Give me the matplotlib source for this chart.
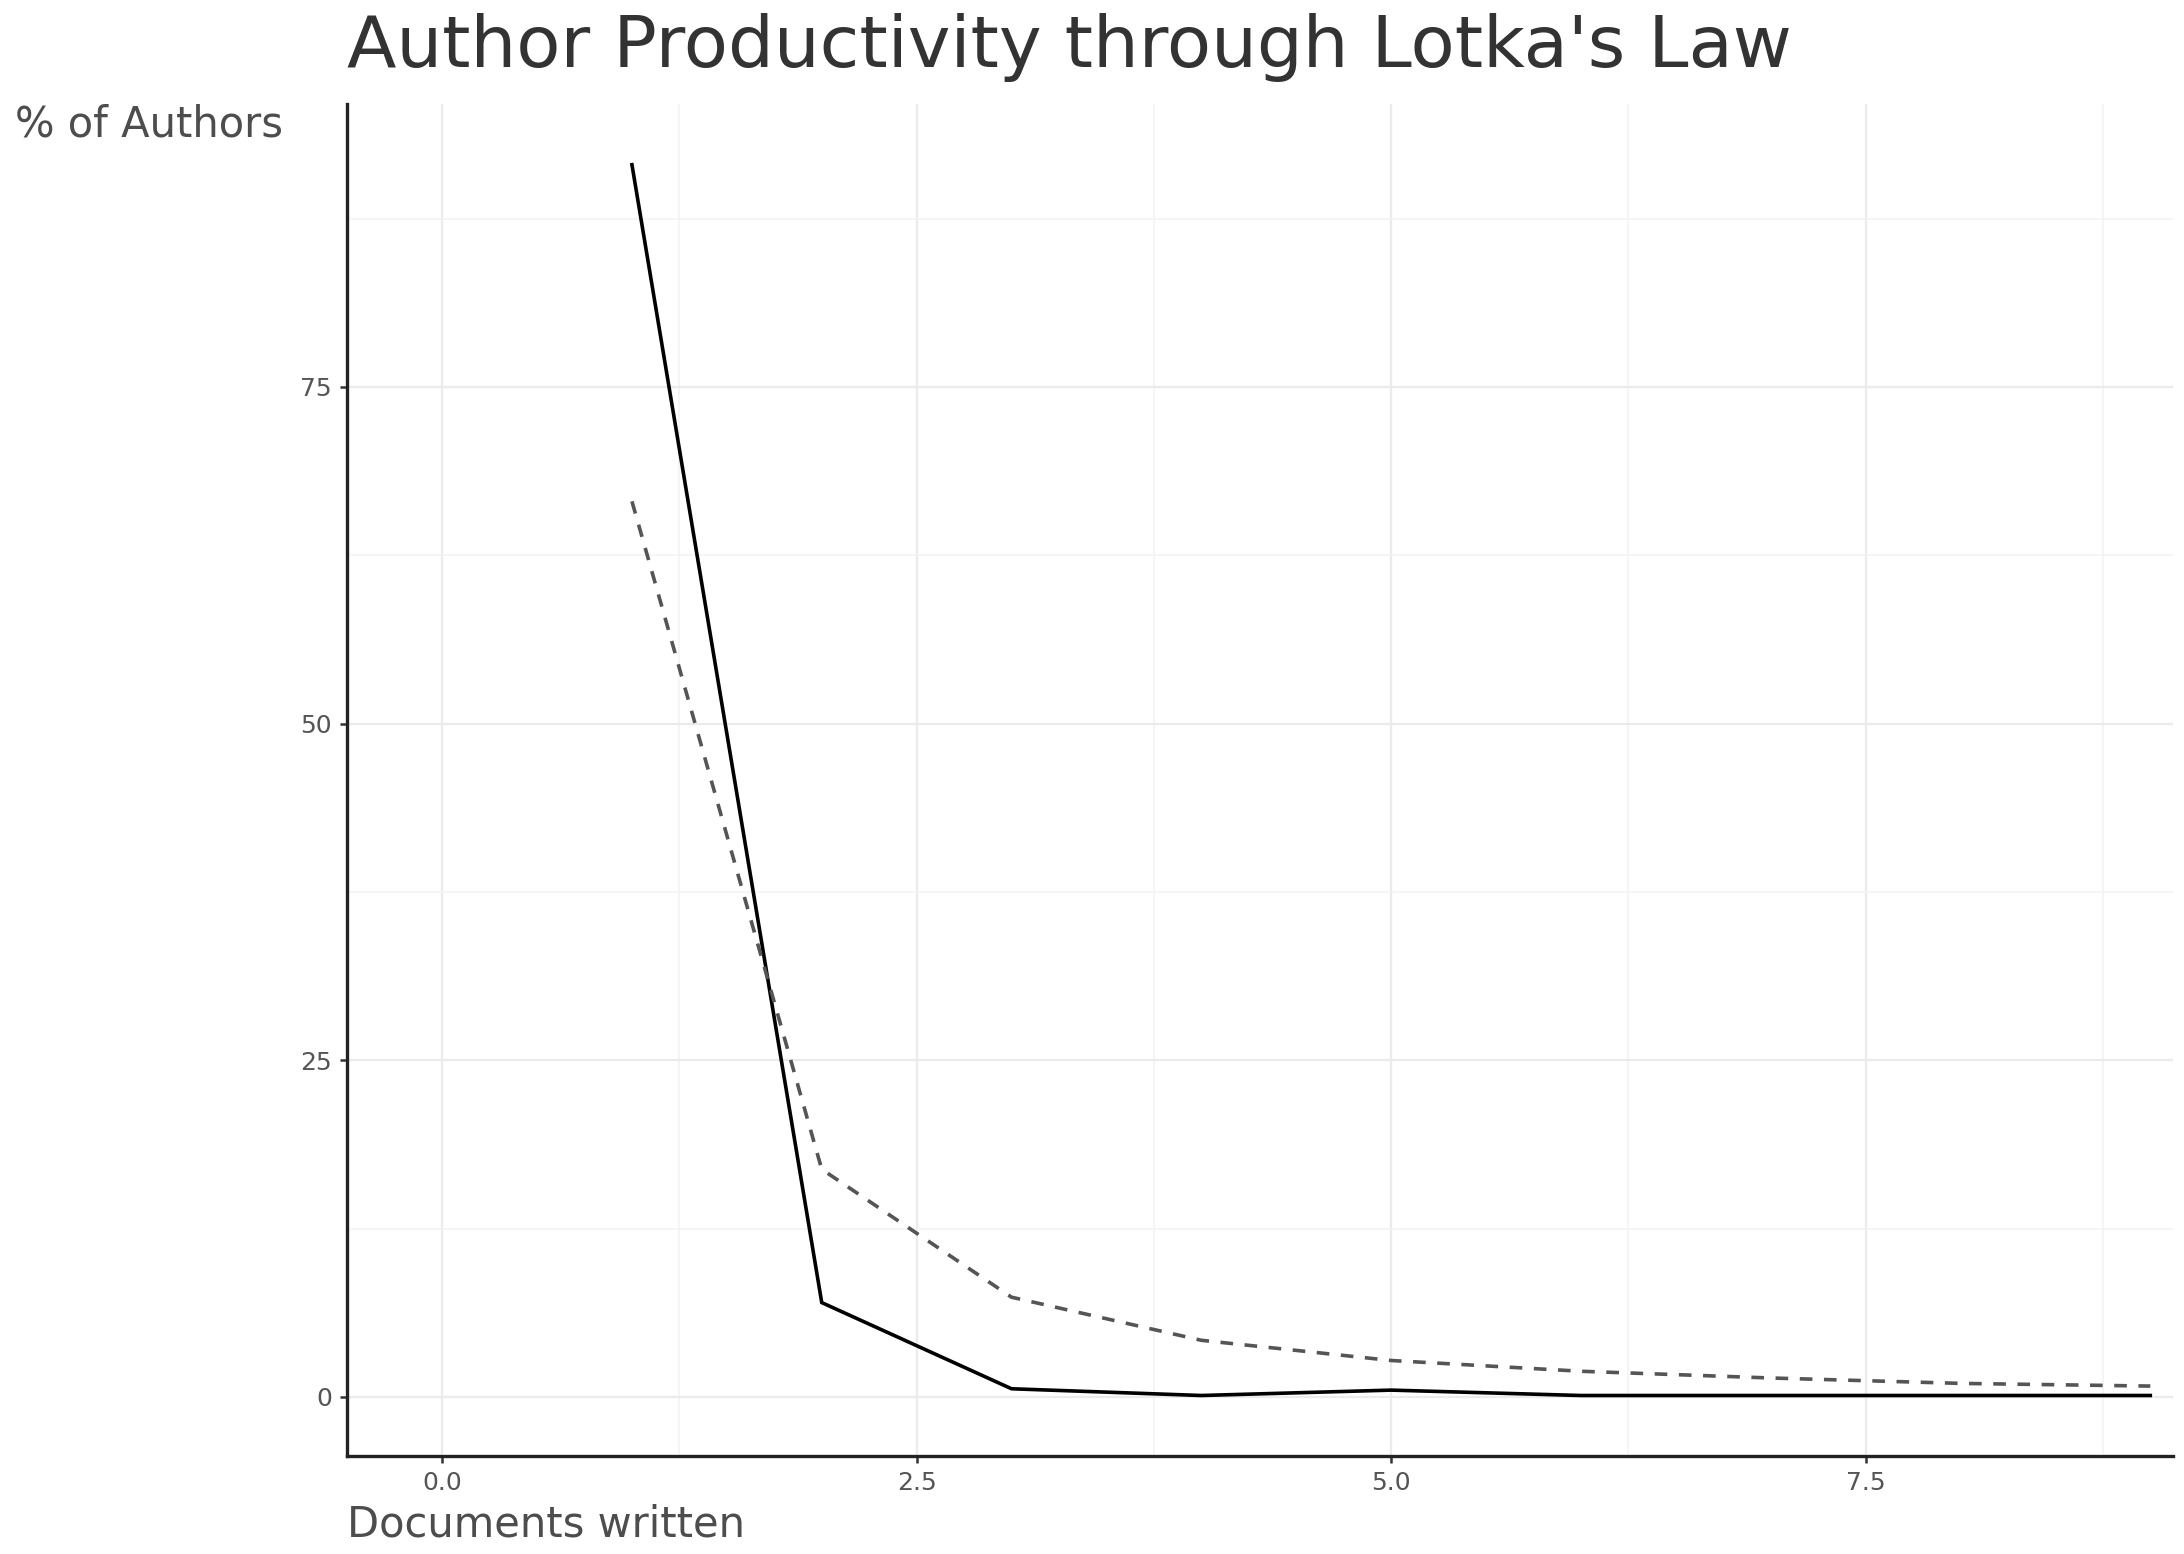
import matplotlib.pyplot as plt
from matplotlib.ticker import MultipleLocator

# documents written per author
docs = [1, 2, 3, 4, 5, 6, 7, 8, 9]
# observed share of authors (%)
observed = [91.5, 7.0, 0.6, 0.1, 0.5, 0.1, 0.1, 0.1, 0.1]
# share expected by Lotka's law (%)
theoretical = [66.5, 16.9, 7.4, 4.2, 2.7, 1.9, 1.4, 1.0, 0.8]

x_ticks = [0.0, 2.5, 5.0, 7.5]
y_ticks = [0, 25, 50, 75]

plt.rcParams['font.family'] = ['DejaVu Sans']

fig = plt.figure(figsize=(21.84, 15.54), dpi=100)
ax = fig.add_axes([0.159, 0.063, 0.836, 0.870])

ax.plot(docs, observed, color='black', lw=2.6, solid_joinstyle='miter')
ax.plot(docs, theoretical, color='#555555', lw=2.6, linestyle=(0, (3.5, 3.2)))

ax.set_xlim(-0.5, 9.12)
ax.set_ylim(-4.4, 96.0)
ax.set_xticks(x_ticks)
ax.set_xticklabels([f'{t:.1f}' for t in x_ticks])
ax.set_yticks(y_ticks)
ax.xaxis.set_minor_locator(MultipleLocator(1.25))
ax.yaxis.set_minor_locator(MultipleLocator(12.5))

ax.grid(which='major', color='#ebebeb', lw=1.6)
ax.grid(which='minor', color='#f3f3f3', lw=1.2)
ax.set_axisbelow(True)

for side in ['top', 'right']:
    ax.spines[side].set_visible(False)
for side in ['left', 'bottom']:
    ax.spines[side].set_color('#222222')
    ax.spines[side].set_linewidth(2.4)

ax.tick_params(which='major', length=5, width=1.8, color='#333333',
               labelsize=18, labelcolor='#555555', pad=6)
ax.tick_params(which='minor', length=0)

fig.text(0.159, 0.957, "Author Productivity through Lotka's Law",
         fontsize=52, color='#333333', va='baseline', ha='left')
fig.text(0.007, 0.912, '% of Authors', fontsize=30, color='#4d4d4d',
         va='baseline', ha='left')
fig.text(0.159, 0.011, 'Documents written', fontsize=30, color='#4d4d4d',
         va='baseline', ha='left')

fig.savefig('out.png', dpi=100, facecolor='white')
